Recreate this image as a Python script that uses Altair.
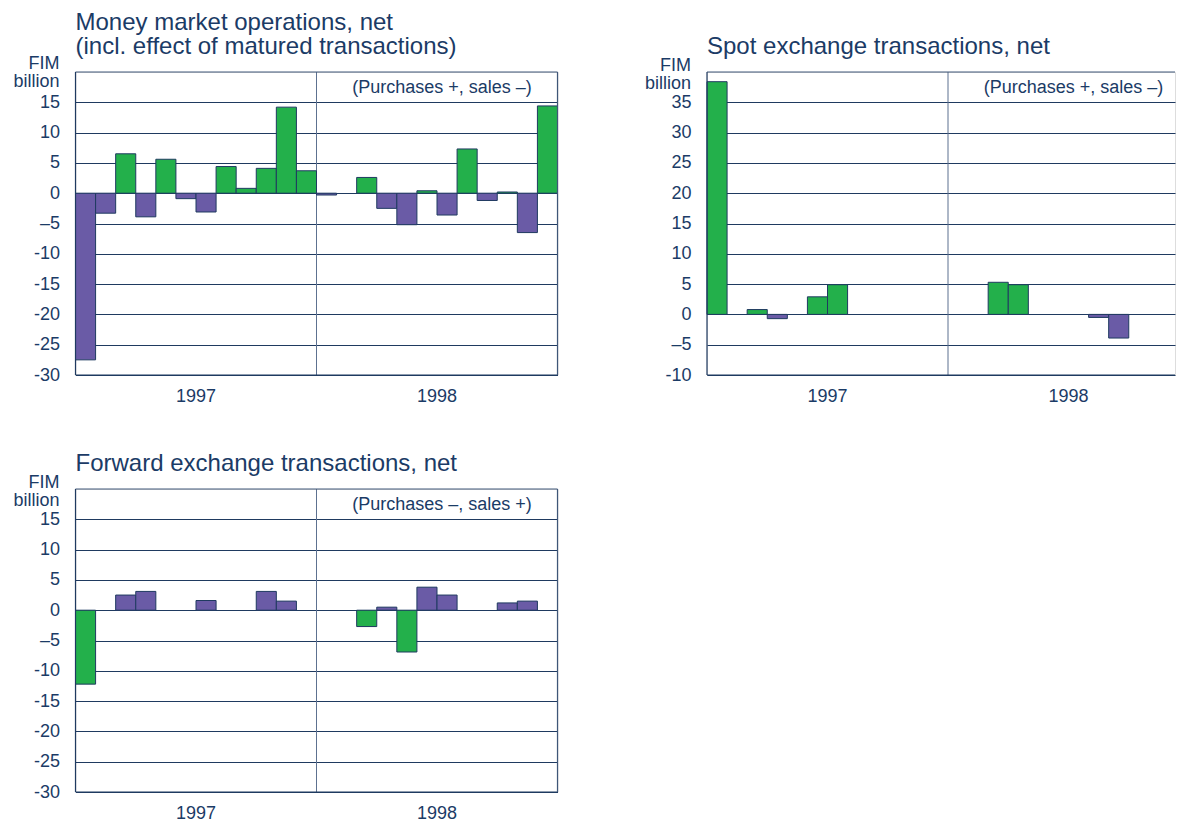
import altair as alt
import numpy as np
import pandas as pd

# ---------------- data (FIM billion, monthly, Jan 1997 .. Dec 1998) ----------------
money_1997 = [-27.5, -3.3, 6.5, -3.9, 5.6, -0.9, -3.1, 4.4, 0.8, 4.1, 14.2, 3.7]
money_1998 = [-0.3, 0.0, 2.6, -2.5, -5.2, 0.4, -3.6, 7.3, -1.2, 0.2, -6.5, 14.4]

spot_1997 = [38.4, 0.0, 0.8, -0.7, 0.0, 2.9, 4.9, 0.0, 0.0, 0.0, 0.0, 0.0]
spot_1998 = [0.0, 0.0, 5.3, 4.9, 0.0, 0.0, 0.0, -0.5, -3.9, 0.0, 0.0, 0.0]

forward_1997 = [-12.2, 0.0, 2.5, 3.1, 0.0, 0.0, 1.6, 0.0, 0.0, 3.1, 1.5, 0.0]
forward_1998 = [0.0, 0.0, -2.7, 0.5, -6.9, 3.8, 2.5, 0.0, 0.0, 1.2, 1.5, 0.0]

years = ["1997", "1998"]
year_mid = [6, 18]

money_ticks = [-30, -25, -20, -15, -10, -5, 0, 5, 10, 15]
spot_ticks = [-10, -5, 0, 5, 10, 15, 20, 25, 30, 35]

# ---------------- style ----------------
GREEN = "#23b04b"
PURPLE = "#6a5ba6"
NAVY = "#1f3a60"
BORDER = "#3f5678"
DIVIDER = "#5d7190"
TEXT = "#1b3b66"
FONT = "Liberation Sans"
FS = 18
TFS = 24
H = 303
PX_PER_MONTH = 482 / 24.0

LABEL_EXPR = ("datum.value == -5 ? '\u20135' : "
              "(datum.value < 0 ? '-' + toString(-datum.value) : toString(datum.value))")


def panel(title_lines, title_y, fim_y, v97, v98, purchase_sign, ydomain, yticks,
          annotation, width, right_border=True):
    xmax = width / PX_PER_MONTH
    vals = list(v97) + list(v98)
    df = pd.DataFrame({"i": list(range(24)), "value": vals})
    df = df[df["value"] != 0].copy()
    df["start"] = df["i"]
    df["end"] = df["i"] + 1
    df["kind"] = np.where(df["value"] * purchase_sign > 0, "Purchases", "Sales")

    xs = alt.Scale(domain=[0, xmax], nice=False, zero=False)
    ys = alt.Scale(domain=ydomain, nice=False, zero=False)
    one = pd.DataFrame({"d": [0]})

    base_axis = alt.Axis(
        values=yticks, grid=True, gridColor=NAVY, gridWidth=1, domain=False,
        ticks=False, labelPadding=16, labelFontSize=FS, labelFont=FONT,
        labelColor=TEXT, title=None, labelExpr=LABEL_EXPR,
    )

    divider = alt.Chart(one).mark_rule(color=DIVIDER, strokeWidth=1).encode(
        x=alt.X(datum=12, scale=xs, axis=None),
        y=alt.value(0), y2=alt.value(H),
    )

    bars = alt.Chart(df).mark_bar(stroke=NAVY, strokeWidth=1).encode(
        x=alt.X("start:Q", scale=xs, axis=None),
        x2="end:Q",
        y=alt.Y("value:Q", scale=ys, axis=base_axis),
        y2=alt.datum(0),
        color=alt.Color("kind:N",
                        scale=alt.Scale(domain=["Purchases", "Sales"], range=[GREEN, PURPLE]),
                        legend=None),
    )

    top = alt.Chart(one).mark_rule(color=BORDER, strokeWidth=1).encode(
        x=alt.value(0), x2=alt.value(width), y=alt.value(0))
    bottom = alt.Chart(one).mark_rule(color=NAVY, strokeWidth=1.2).encode(
        x=alt.value(0), x2=alt.value(width), y=alt.value(H))
    left = alt.Chart(one).mark_rule(color=NAVY, strokeWidth=1.2).encode(
        x=alt.value(0), y=alt.value(0), y2=alt.value(H))
    layers = [divider, bars, top, bottom, left]
    if right_border:
        right = alt.Chart(one).mark_rule(color=BORDER, strokeWidth=1.2).encode(
            x=alt.value(width), y=alt.value(0), y2=alt.value(H))
        layers.append(right)

    yr = alt.Chart(pd.DataFrame({"year": years, "mid": year_mid})).mark_text(
        font=FONT, fontSize=FS, color=TEXT, baseline="alphabetic", align="center"
    ).encode(x=alt.X("mid:Q", scale=xs, axis=None), y=alt.value(H + 27), text="year:N")

    title = alt.Chart(one).mark_text(
        text=title_lines, font=FONT, fontSize=TFS, lineHeight=24, color=TEXT,
        align="left", baseline="alphabetic"
    ).encode(x=alt.value(0), y=alt.value(title_y))

    fim = alt.Chart(one).mark_text(
        text=["FIM", "billion"], font=FONT, fontSize=FS, lineHeight=18, color=TEXT,
        align="right", baseline="alphabetic"
    ).encode(x=alt.value(-16), y=alt.value(fim_y))

    ann = alt.Chart(one).mark_text(
        text=annotation, font=FONT, fontSize=FS, color=TEXT,
        align="center", baseline="alphabetic"
    ).encode(x=alt.value(0.75 * 482 + 5), y=alt.value(21))

    layers += [yr, title, fim, ann]
    return alt.layer(*layers).properties(width=width, height=H)


p1 = panel(["Money market operations, net", "(incl. effect of matured transactions)"],
           -42, -3, money_1997, money_1998, 1, [-30, 20], money_ticks,
           "(Purchases +, sales \u2013)", 482)
p2 = panel(["Spot exchange transactions, net"],
           -18, -1, spot_1997, spot_1998, 1, [-10, 40], spot_ticks,
           "(Purchases +, sales \u2013)", 468, right_border=False)
p3 = panel(["Forward exchange transactions, net"],
           -18, -1, forward_1997, forward_1998, -1, [-30, 20], money_ticks,
           "(Purchases \u2013, sales +)", 482)

chart = alt.concat(
    p1, p2, p3, columns=2, spacing={"row": 114, "column": 149.5}, bounds="flush"
).properties(
    padding={"left": 4.5, "top": 2, "right": 0, "bottom": 0}
).configure_view(stroke=None).configure(background="white")

chart.save("out.html", embed_options={"renderer": "svg", "actions": False})
